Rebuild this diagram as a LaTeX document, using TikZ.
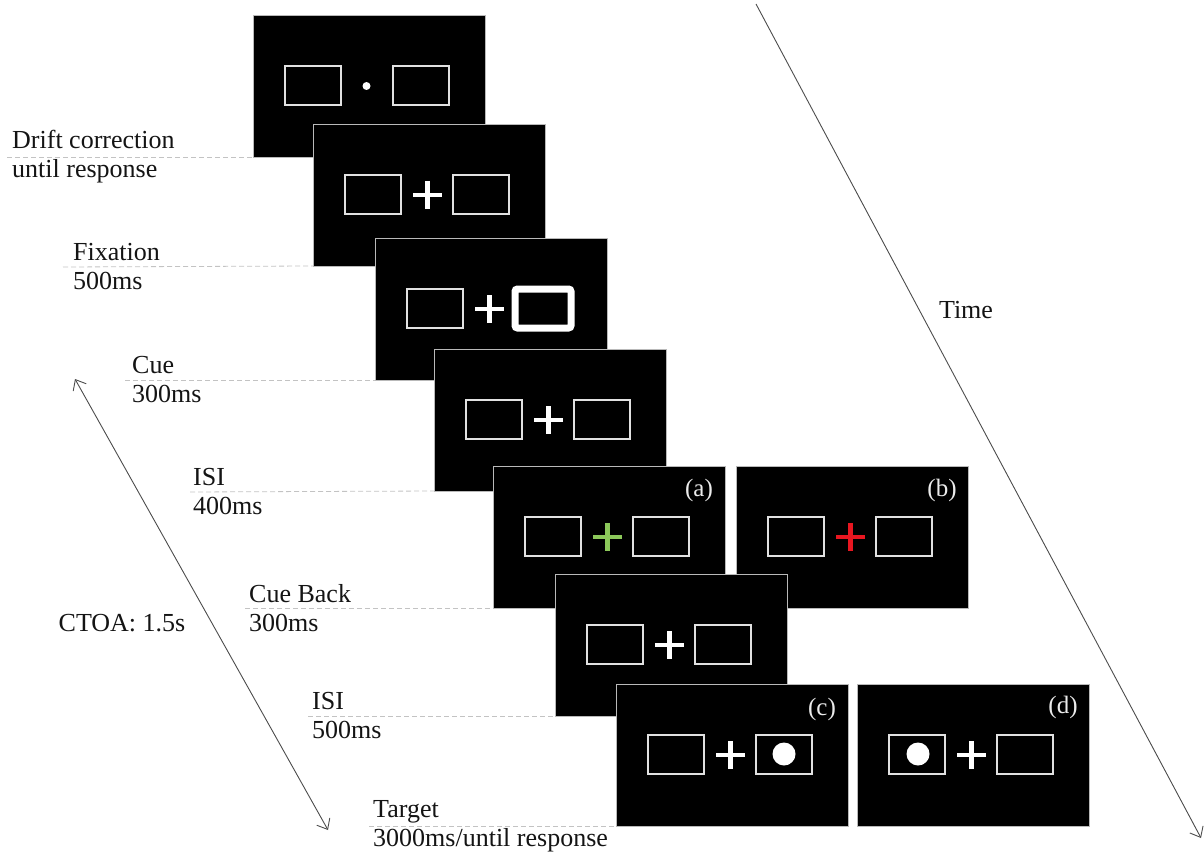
\documentclass[tikz,border=0pt]{standalone}
\usepackage{fontspec}
\setmainfont{Liberation Serif}
\usetikzlibrary{arrows.meta}
\definecolor{cuegreen}{RGB}{140,200,90}
\definecolor{cuered}{RGB}{232,22,32}
\definecolor{guidegray}{RGB}{195,195,195}
\definecolor{framegray}{RGB}{225,225,225}

% placeholder frames, fixation cross and target disc inside a screen
\newcommand\leftframe{\draw[frame] (32,51) rectangle (88,90);}
\newcommand\rightframe{\draw[frame] (140,51) rectangle (196,90);}
\newcommand\fixcross[1]{\draw[crossline,#1] (100,71) -- (129,71) (114.5,57) -- (114.5,85);}

\begin{document}
\begin{tikzpicture}[x=1pt,y=-1pt,
  screen/.style={fill=black, draw=gray!55, line width=0.8pt, minimum width=232pt,
    minimum height=142pt, inner sep=0pt, outer sep=0pt, anchor=north west},
  frame/.style={draw=framegray, line width=1.3pt},
  cueframe/.style={draw=white, line width=7pt, rounded corners=2.5pt},
  crossline/.style={draw=white, line width=4.4pt},
  lbl/.style={anchor=west, align=left, inner sep=0pt, text=black!92,
    font=\fontsize{26}{29}\selectfont},
  tag/.style={inner sep=0pt, text=white!92!black, font=\fontsize{25}{28}\selectfont},
  guide/.style={draw=guidegray, line width=0.8pt, dash pattern=on 5pt off 3pt},
  timeline/.style={draw=black!70, line width=0.9pt,
    -{Straight Barb[length=9pt,width=15pt]}},
  spanline/.style={draw=black!70, line width=0.9pt,
    {Straight Barb[length=9pt,width=15pt]}-{Straight Barb[length=9pt,width=15pt]}}]

\useasboundingbox (0,0) rectangle (1204,853);

% sequence of screens
\node[screen] (s1) at (253,15) {};
\begin{scope}[shift={(s1.north west)}]
  \leftframe \rightframe
  \fill[white] (113.5,71) circle (4pt);
\end{scope}

\node[screen] (s2) at (313,124) {};
\begin{scope}[shift={(s2.north west)}]
  \leftframe \rightframe \fixcross{}
\end{scope}

\node[screen] (s3) at (375,238) {};
\begin{scope}[shift={(s3.north west)}]
  \leftframe \fixcross{}
  \draw[cueframe] (140,51) rectangle (196,90);
\end{scope}

\node[screen] (s4) at (434,349) {};
\begin{scope}[shift={(s4.north west)}]
  \leftframe \rightframe \fixcross{}
\end{scope}

\node[screen] (sa) at (493,466) {};
\begin{scope}[shift={(sa.north west)}]
  \leftframe \rightframe \fixcross{draw=cuegreen}
\end{scope}
\node[tag] at ([shift={(206,24)}]sa.north west) {(a)};

\node[screen] (sb) at (736,466) {};
\begin{scope}[shift={(sb.north west)}]
  \leftframe \rightframe \fixcross{draw=cuered}
\end{scope}
\node[tag] at ([shift={(206,24)}]sb.north west) {(b)};

\node[screen] (s6) at (555,574) {};
\begin{scope}[shift={(s6.north west)}]
  \leftframe \rightframe \fixcross{}
\end{scope}

\node[screen] (sc) at (616,684) {};
\begin{scope}[shift={(sc.north west)}]
  \leftframe \rightframe \fixcross{}
  \fill[white] (168,70) circle (11.5pt);
\end{scope}
\node[tag] at ([shift={(206,25)}]sc.north west) {(c)};

\node[screen] (sd) at (857,684) {};
\begin{scope}[shift={(sd.north west)}]
  \leftframe \rightframe \fixcross{}
  \fill[white] (61,70) circle (11.5pt);
\end{scope}
\node[tag] at ([shift={(206,23)}]sd.north west) {(d)};

% phase labels with guide lines to each screen
\node[lbl] (l1) at (12,157) {Drift correction\\until response};
\node[lbl] (l2) at (73,267) {Fixation\\500ms};
\node[lbl] (l3) at (132,380) {Cue\\300ms};
\node[lbl] (l4) at (193,492) {ISI\\400ms};
\node[lbl] (l5) at (249,608) {Cue Back\\300ms};
\node[lbl] (l6) at (312,716) {ISI\\500ms};
\node[lbl] (l7) at (373,826) {Target\\3000ms/until response};

\draw[guide] ([xshift=-5pt]l1.west) -- (s1.south west);
\draw[guide] ([xshift=-10pt]l2.west) -- (s2.south west);
\draw[guide] ([xshift=-7pt]l3.west) -- (s3.south west);
\draw[guide] ([xshift=-3pt]l4.west) -- (s4.south west);
\draw[guide] ([xshift=-4pt]l5.west) -- (sa.south west);
\draw[guide] ([xshift=-4pt]l6.west) -- (s6.south west);
\draw[guide] ([xshift=-4pt]l7.west) -- (sc.south west);

% cue-target onset asynchrony
\coordinate (ctoaA) at (75,379);
\coordinate (ctoaB) at (328,830);
\draw[spanline] (ctoaA) -- (ctoaB);
\node[lbl, anchor=center] (ctoa) at (122,623) {CTOA: 1.5s};

% time axis
\coordinate (tA) at (756,4);
\coordinate (tB) at (1201,838);
\draw[timeline] (tA) -- (tB);
\node[lbl, anchor=center] (time) at (966,310) {Time};

\end{tikzpicture}
\end{document}
